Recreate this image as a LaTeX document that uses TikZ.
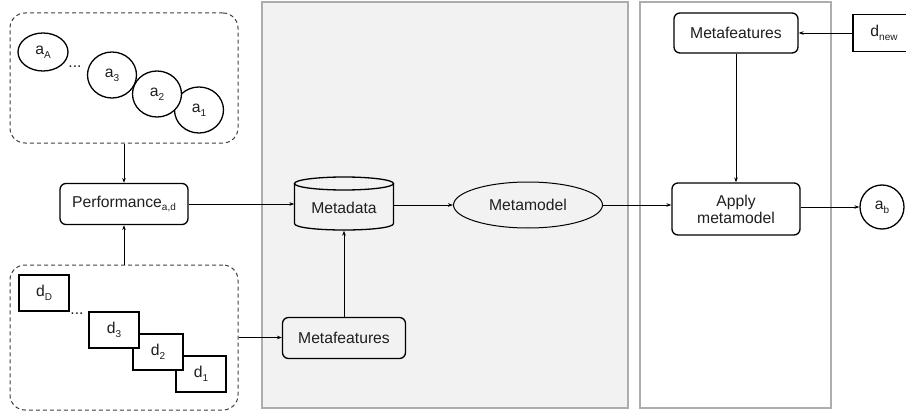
\documentclass[tikz,border=0pt]{standalone}
\usepackage{fontspec}
\setmainfont{Liberation Sans}
\usetikzlibrary{arrows.meta,shapes.geometric}
% lowered, smaller index text
\newcommand{\lowidx}[1]{\raisebox{-0.45ex}{\fontsize{10}{10}\selectfont #1}}

\begin{document}
\begin{tikzpicture}[x=1pt,y=-1pt,
  every node/.style={font=\fontsize{15.7}{17}\selectfont, text=black!88},
  conn/.style={draw=black, line width=0.8pt, -{Stealth[length=5pt,width=3.6pt]}},
  rbox/.style={draw=black, line width=1.3pt, rounded corners=6pt, inner sep=0pt},
  algo/.style={draw=black, fill=white, ellipse, line width=1.3pt, inner sep=0pt,
    minimum width=49pt, minimum height=46pt},
  dset/.style={draw=black, fill=white, rectangle, line width=1.3pt, inner sep=0pt,
    minimum width=50pt, minimum height=36pt},
  group/.style={draw=black!75, dashed, dash pattern=on 4pt off 3pt, line width=1pt,
    rounded corners=15pt, inner sep=0pt},
  panel/.style={draw=black!32, line width=1.2pt},
  dots/.style={inner sep=0pt}
]
\useasboundingbox (0,0) rectangle (906,412);

% background panels
\draw[panel, fill=black!5] (262,2) rectangle (628,408);
\draw[panel, fill=white] (640,2) rectangle (831,408);

% algorithm pool
\node[group, minimum width=228pt, minimum height=130pt] (algs) at (124,78) {};
\node[algo] (a1) at (199,110) {a\lowidx{1}};
\node[algo] (a2) at (157,94) {a\lowidx{2}};
\node[algo] (a3) at (112,75) {a\lowidx{3}};
\node[algo, minimum width=50pt, minimum height=38pt] (aA) at (43,52) {a\lowidx{A}};
\node[dots] (adots) at (75,67) {...};

% dataset pool
\node[group, minimum width=228pt, minimum height=145pt] (datas) at (124,337.5) {};
\node[dset] (d1) at (201,374) {d\lowidx{1}};
\node[dset] (d2) at (158,352) {d\lowidx{2}};
\node[dset] (d3) at (114,330) {d\lowidx{3}};
\node[dset] (dD) at (44,293) {d\lowidx{D}};
\node[dots] (ddots) at (77,314) {...};

% performance table
\node[rbox, minimum width=128pt, minimum height=41pt] (perf) at (124,204) {Performance\lowidx{a,d}};

% metadata store (cylinder)
\node[minimum width=99pt, minimum height=53pt, inner sep=0pt] (mdata) at (344,204) {};
\draw[line width=1.3pt] (294.5,183.5) -- (294.5,223.5)
  .. controls (294.5,232.17) and (393.5,232.17) .. (393.5,223.5) -- (393.5,183.5);
\draw[line width=1.3pt] (344,183.5) ellipse [x radius=49.5, y radius=6.5];
\node at (344,208) {Metadata};

% metamodel
\node[draw=black, ellipse, line width=1pt, inner sep=0pt,
  minimum width=149pt, minimum height=46pt] (mmodel) at (528,205) {Metamodel};

% metafeatures (training side)
\node[rbox, minimum width=123pt, minimum height=41pt] (mfeat1) at (344,338) {Metafeatures};

% new dataset side
\node[rbox, minimum width=124pt, minimum height=40pt] (mfeat2) at (736,33) {Metafeatures};
\node[dset, minimum width=62pt, minimum height=37pt] (dnew) at (884,33) {d\lowidx{new}};
\node[rbox, minimum width=128pt, minimum height=52pt, align=center] (apply) at (736,209)
  {Apply\\metamodel};
\node[algo, minimum width=44pt, minimum height=44pt] (ab) at (882,207) {a\lowidx{b}};

% connectors
\draw[conn] (algs.south) -- (perf.north);
\draw[conn] (datas.north) -- (perf.south);
\draw[conn] (perf.east) -- (mdata.west);
\draw[conn] (datas.east) -- (datas.east -| mfeat1.west);
\draw[conn] (mfeat1.north) -- (mdata.south);
\draw[conn] (mdata.east |- mmodel.east) -- (mmodel.west);
\draw[conn] (mmodel.east) -- (mmodel.east -| apply.west);
\draw[conn] (dnew.west) -- (mfeat2.east);
\draw[conn] (mfeat2.south) -- (apply.north);
\draw[conn] (apply.east |- ab.west) -- (ab.west);
\end{tikzpicture}
\end{document}
